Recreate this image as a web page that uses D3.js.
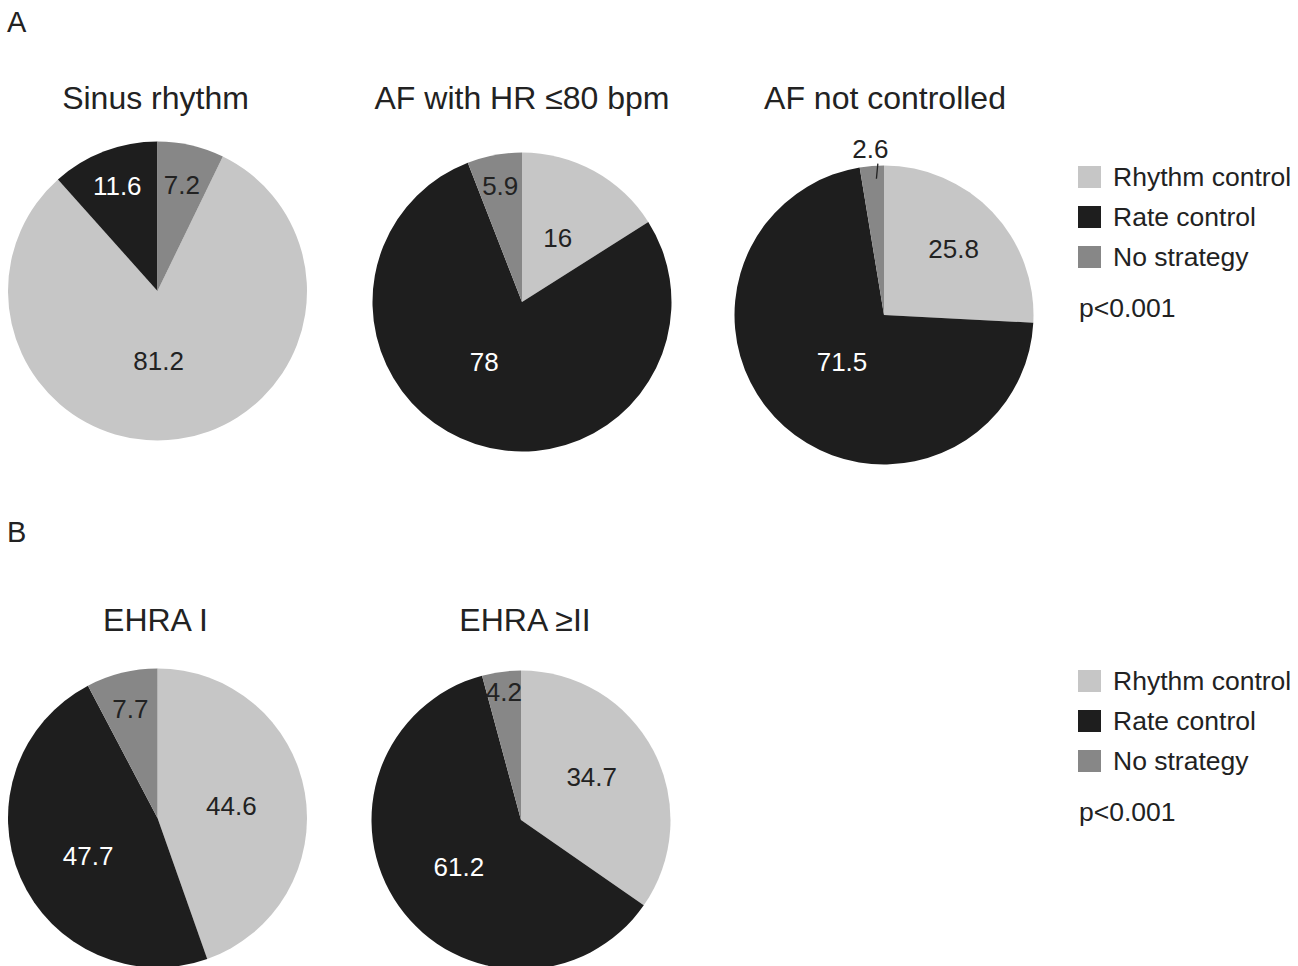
<!DOCTYPE html>
<html>
<head>
<meta charset="utf-8">
<script src="https://cdn.jsdelivr.net/npm/d3@7"></script>
<style>
  body { margin: 0; background: #fff; }
  svg { display: block; font-family: "Liberation Sans", Arial, sans-serif; }
</style>
</head>
<body>
<svg id="chart"></svg>
<script>
// data
const strategies = ["Rhythm control", "Rate control", "No strategy"];
const panelA = ["Sinus rhythm", "AF with HR \u226480 bpm", "AF not controlled"];
const panelB = ["EHRA I", "EHRA \u2265II"];
const sinusValues = [81.2, 11.6, 7.2];
const afControlledValues = [16, 78, 5.9];
const afNotControlledValues = [25.8, 71.5, 2.6];
const ehra1Values = [44.6, 47.7, 7.7];
const ehra2Values = [34.7, 61.2, 4.2];
const pValueA = "p<0.001";
const pValueB = "p<0.001";

const width = 1298, height = 966;
const colors = d3.scaleOrdinal().domain(strategies).range(["#c6c6c6", "#1e1e1e", "#878787"]);
const textColors = d3.scaleOrdinal().domain(strategies).range(["#222", "#fff", "#222"]);

const svg = d3.select("#chart").attr("width", width).attr("height", height);

// layout of each pie: centre, start offset, and where the numbers sit
let pies = [
  {title: panelA[0], values: sinusValues, cx: 157.5, cy: 291, ty: 108.5, tdx: -2, start: 0.072,
   labelR: [70, 113, 109], labelShift: [7, 0, 0]},
  {title: panelA[1], values: afControlledValues, cx: 522, cy: 302, ty: 108.5, tdx: 0, start: 0,
   labelR: [74, 71, 118], labelShift: [0, 14, 0]},
  {title: panelA[2], values: afNotControlledValues, cx: 884, cy: 315, ty: 108.5, tdx: 1, start: 0,
   labelR: [96, 63, 167], labelShift: [0, 0, 0], outside: [false, false, true]},
  {title: panelB[0], values: ehra1Values, cx: 157.5, cy: 818, ty: 631, tdx: -2, start: 0,
   labelR: [75, 79, 113], labelShift: [0, -5, 0]},
  {title: panelB[1], values: ehra2Values, cx: 521, cy: 820, ty: 631, tdx: 4, start: 0,
   labelR: [83, 78, 130], labelShift: [-4, -2, 0]}
];
const radius = 149.5;

let arc = d3.arc().innerRadius(0).outerRadius(radius);

pies.forEach((p) => {
  let s = p.start * 2 * Math.PI;
  let pie = d3.pie().sort(null).startAngle(s).endAngle(s + 2 * Math.PI);
  let slices = pie(p.values).map((d, i) => Object.assign(d, {name: strategies[i]}));

  let g = svg.append("g").attr("transform", `translate(${p.cx},${p.cy})`);
  g.selectAll("path")
    .data(slices).enter()
    .append("path")
    .attr("d", arc)
    .attr("fill", (d) => colors(d.name));

  g.selectAll("text.val")
    .data(slices).enter()
    .append("text")
    .attr("class", "val")
    .attr("text-anchor", "middle")
    .attr("font-size", 26)
    .attr("dy", "0.36em")
    .attr("fill", (d, i) => (p.outside && p.outside[i]) ? "#222" : textColors(d.name))
    .attr("x", (d, i) => {
      let a = (d.startAngle + d.endAngle) / 2 + p.labelShift[i] * Math.PI / 180;
      return Math.sin(a) * p.labelR[i];
    })
    .attr("y", (d, i) => {
      let a = (d.startAngle + d.endAngle) / 2 + p.labelShift[i] * Math.PI / 180;
      return -Math.cos(a) * p.labelR[i];
    })
    .text((d) => d3.format("")(d.value));

  // leader line for labels placed outside the pie
  if (p.outside) {
    slices.forEach((d, i) => {
      if (!p.outside[i]) return;
      let a = (d.startAngle + d.endAngle) / 2 + 1.5 * Math.PI / 180;
      g.append("line")
        .attr("x1", Math.sin(a) * (radius - 13)).attr("y1", -Math.cos(a) * (radius - 13))
        .attr("x2", Math.sin(a + 0.015) * (radius + 2)).attr("y2", -Math.cos(a + 0.015) * (radius + 2))
        .attr("stroke", "#222").attr("stroke-width", 1.3);
    });
  }

  svg.append("text")
    .attr("x", p.cx + p.tdx)
    .attr("y", p.ty)
    .attr("text-anchor", "middle")
    .attr("font-size", 32)
    .attr("fill", "#222")
    .text(p.title);
});

// panel letters
svg.append("text").attr("x", 7).attr("y", 31.5).attr("font-size", 29).attr("fill", "#222").text("A");
svg.append("text").attr("x", 7).attr("y", 541.5).attr("font-size", 29).attr("fill", "#222").text("B");

// legends
function drawLegend(top, pText) {
  let lg = svg.append("g").attr("transform", `translate(1078,${top})`);
  let rows = lg.selectAll("g")
    .data(strategies).enter()
    .append("g")
    .attr("transform", (d, i) => `translate(0,${i * 40})`);
  rows.append("rect")
    .attr("width", 23).attr("height", 22)
    .attr("fill", (d) => colors(d));
  rows.append("text")
    .attr("x", 35).attr("y", 20)
    .attr("font-size", 26.5).attr("fill", "#222")
    .text((d) => d);
  lg.append("text")
    .attr("x", 1).attr("y", 150.5)
    .attr("font-size", 26.5).attr("fill", "#222")
    .text(pText);
}
drawLegend(166, pValueA);
drawLegend(670, pValueB);
</script>
</body>
</html>
